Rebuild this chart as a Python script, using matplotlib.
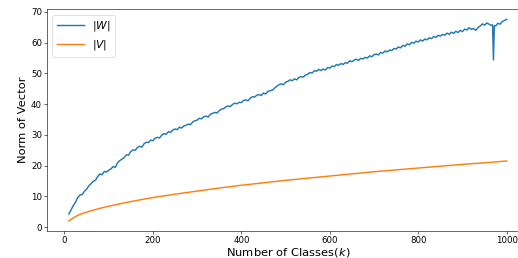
import matplotlib
matplotlib.use("Agg")
import matplotlib.pyplot as plt

# |W|, every 5 classes, with the sharp dip near k=970
k_w = list(range(10, 966, 5)) + [968, 970, 972] + list(range(975, 1001, 5))
norm_w = [
    4.3, 5.6, 7.0, 8.1, 9.6, 10.4, 10.6, 11.6, 12.3, 13.4,
    14.1, 14.9, 15.2, 16.4, 17.3, 17.0, 18.1, 17.9, 18.5, 18.9,
    19.7, 19.4, 20.9, 21.6, 22.1, 22.6, 23.5, 23.4, 24.6, 25.1,
    25.0, 25.9, 26.3, 26.0, 27.1, 27.6, 27.5, 28.3, 28.1, 28.9,
    29.2, 29.0, 29.9, 30.4, 30.2, 31.0, 30.8, 31.6, 31.9, 31.7,
    32.5, 32.2, 32.9, 33.1, 33.5, 33.3, 34.2, 34.6, 34.8, 35.4,
    35.2, 35.9, 36.1, 35.8, 36.7, 37.0, 37.3, 37.1, 37.9, 38.4,
    38.5, 39.1, 39.4, 39.2, 39.9, 40.3, 40.1, 40.6, 40.5, 41.2,
    41.4, 41.1, 41.9, 42.4, 42.3, 42.9, 43.1, 42.8, 43.6, 43.3,
    44.1, 44.4, 44.5, 45.2, 45.8, 46.3, 46.6, 46.3, 47.1, 47.4,
    47.9, 47.6, 48.2, 47.9, 48.7, 48.9, 48.8, 49.5, 49.7, 50.3,
    50.1, 50.9, 50.7, 51.3, 50.9, 51.4, 51.1, 51.9, 51.7, 52.4,
    52.2, 52.9, 52.6, 53.2, 52.9, 53.5, 53.3, 54.1, 53.8, 54.3,
    54.6, 54.2, 54.9, 54.7, 55.2, 55.0, 55.7, 55.4, 56.1, 56.3,
    56.0, 56.8, 56.6, 57.3, 57.0, 57.6, 57.4, 58.1, 57.9, 58.6,
    58.3, 59.1, 58.8, 59.6, 59.3, 60.1, 59.8, 60.5, 60.2, 60.9,
    60.5, 61.2, 60.9, 61.6, 61.3, 62.0, 61.7, 62.4, 62.1, 62.7,
    62.4, 63.1, 62.7, 63.4, 63.0, 63.7, 63.3, 64.0, 63.6, 64.4,
    64.1, 64.9, 64.3, 64.6, 64.0, 64.9, 65.4, 66.1, 65.7, 66.4,
    66.0, 65.6, 65.8, 54.4, 65.5, 65.4, 66.3, 66.0, 66.9, 67.2, 67.6,
]

# |V| is smooth, a coarser sampling is enough
k_v = [10, 20, 30, 40, 60, 80, 100, 150, 200, 250, 300, 350, 400, 450, 500,
       550, 600, 650, 700, 750, 800, 850, 900, 950, 1000]
norm_v = [2.0, 3.0, 3.8, 4.4, 5.3, 6.1, 6.8, 8.3, 9.6, 10.7, 11.7, 12.7, 13.6,
          14.4, 15.2, 15.9, 16.6, 17.3, 18.0, 18.6, 19.2, 19.8, 20.4, 20.9, 21.5]

dpi = 51.8
fig = plt.figure(figsize=(518 / dpi, 258 / dpi), dpi=dpi)
# the right edge of the axes is cut off in the reference
ax = fig.add_axes([47 / 518, 27 / 258, 481.6 / 518, 221.8 / 258])
ax.spines["right"].set_visible(False)

ax.plot(k_w, norm_w, lw=2, label=r"$|W|$")
ax.plot(k_v, norm_v, lw=2, label=r"$|V|$")

ax.set_xticks([0, 200, 400, 600, 800, 1000])
ax.set_yticks(range(0, 71, 10))
ax.tick_params(labelsize=12)
ax.set_xlabel("Number of Classes($k$)", fontsize=16, labelpad=2)
ax.set_ylabel("Norm of Vector", fontsize=16)
ax.legend(loc="upper left", fontsize=15, handlelength=2.5)

fig.savefig("out.png", dpi=dpi)
